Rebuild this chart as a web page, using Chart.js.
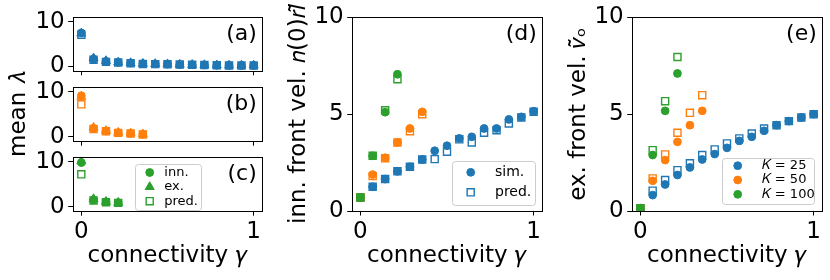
<!DOCTYPE html>
<html>
<head>
<meta charset="utf-8">
<script src="https://cdn.jsdelivr.net/npm/chart.js@4.4.0/dist/chart.umd.min.js"></script>
<style>
  body { margin: 0; background: #fff; }
  #wrap { position: relative; width: 830px; height: 280px; }
  #wrap canvas { position: absolute; left: 0; top: 0; }
</style>
</head>
<body>
<div id="wrap">
  <canvas id="pa" width="830" height="280"></canvas>
  <canvas id="pb" width="830" height="280"></canvas>
  <canvas id="pc" width="830" height="280"></canvas>
  <canvas id="pd" width="830" height="280"></canvas>
  <canvas id="pe" width="830" height="280"></canvas>
</div>
<script>
// connectivity values (x)
const gamma = [0, 0.071, 0.143, 0.214, 0.286, 0.357, 0.429, 0.5, 0.571, 0.643, 0.714, 0.786, 0.857, 0.929, 1];

// mean lambda, K = 25 (a)
const lamInn25  = [7.5, 1.6, 1.1, 0.9, 0.75, 0.6, 0.55, 0.5, 0.4, 0.35, 0.3, 0.25, 0.22, 0.2, 0.2];
const lamEx25   = [7.4, 1.8, 1.2, 0.9, 0.75, 0.6, 0.55, 0.5, 0.4, 0.35, 0.3, 0.25, 0.22, 0.2, 0.2];
const lamPred25 = [7.1, 1.5, 1.0, 0.85, 0.7, 0.55, 0.5, 0.45, 0.4, 0.35, 0.3, 0.25, 0.2, 0.2, 0.2];
const lamErr25  = [0.3, 1.0, 0.7, 0.4, 0.3, 0.2, 0.2, 0.2, 0.1, 0.1, 0.1, 0.1, 0.1, 0.1, 0.1];
// mean lambda, K = 50 (b)
const lamInn50  = [9.1, 1.85, 1.25, 0.9, 0.75, 0.55];
const lamEx50   = [8.9, 2.0, 1.3, 0.9, 0.75, 0.55];
const lamPred50 = [7.2, 1.7, 1.2, 0.85, 0.7, 0.5];
const lamErr50  = [0.3, 1.0, 0.6, 0.4, 0.3, 0.2];
// mean lambda, K = 100 (c)
const lamInn100  = [9.8, 1.5, 1.1, 0.9];
const lamEx100   = [10.1, 1.7, 1.1, 0.9];
const lamPred100 = [7.2, 1.4, 1.0, 0.85];
const lamErr100  = [0.3, 0.9, 0.5, 0.4];

// inner front velocity (d)
const innSim25  = [0.7, 1.25, 1.65, 2.05, 2.28, 2.66, 3.11, 3.37, 3.75, 3.83, 4.26, 4.26, 4.73, 4.86, 5.15];
const innPred25 = [0.7, 1.25, 1.65, 2.05, 2.28, 2.66, 2.68, 3.06, 3.7, 3.54, 4.04, 4.17, 4.52, 4.83, 5.12];
const innSim50  = [0.7, 1.88, 2.75, 3.54, 4.26, 5.12];
const innPred50 = [0.7, 1.8, 2.72, 3.54, 4.12, 5.0];
const innSim100  = [0.7, 2.85, 5.1, 7.06];
const innPred100 = [0.7, 2.85, 5.2, 6.8];

// outer front velocity (e)
const exSim25  = [0.14, 0.82, 1.37, 1.86, 2.25, 2.66, 2.94, 3.26, 3.62, 3.83, 4.14, 4.43, 4.64, 4.83, 5.0];
const exPred25 = [0.14, 1.05, 1.6, 2.11, 2.46, 2.89, 3.18, 3.49, 3.75, 4.0, 4.26, 4.43, 4.64, 4.83, 5.0];
const exSim50  = [0.14, 1.56, 2.63, 3.57, 4.43, 5.17];
const exPred50 = [0.14, 1.68, 2.92, 4.04, 5.07, 5.98];
const exSim100  = [0.14, 2.89, 5.17, 7.1];
const exPred100 = [0.14, 3.14, 5.67, 7.95];

const xTicks = [0, 1];
const yTicks = [0, 5, 10];
const legendLam = ['inn.', 'ex.', 'pred.'];
const legendInn = ['sim.', 'pred.'];
const legendK = ['𝐾 = 25', '𝐾 = 50', '𝐾 = 100'];

const blue = '#1f77b4', orange = '#ff7f0e', green = '#2ca02c';
const FONT = 'DejaVu Sans';
Chart.defaults.font.family = FONT;
Chart.defaults.color = '#000';

function pts(vals) {
  return vals.map((v, i) => ({ x: gamma[i], y: v }));
}

function serie(label, vals, color, style, filled, order, errs) {
  let r = 3.9;
  if (style === 'rect') r = 5.0;
  if (style === 'triangle') r = 5.2;
  return {
    label: label,
    data: pts(vals),
    pointStyle: style,
    pointRadius: r,
    borderWidth: filled ? 1 : 1.4,
    backgroundColor: filled ? color : 'rgba(0,0,0,0)',
    borderColor: color,
    showLine: false,
    order: order,
    errors: errs
  };
}

// cadre + etiquette du panneau
const frame = {
  id: 'frame',
  afterDraw(chart, args, opts) {
    const a = chart.chartArea, c = chart.ctx;
    const l = Math.round(a.left) + 0.5, t = Math.round(a.top) + 0.5;
    const r = Math.round(a.right) + 0.5, b = Math.round(a.bottom) + 0.5;
    c.save();
    c.strokeStyle = '#000';
    c.lineWidth = 1;
    c.strokeRect(l, t, r - l, b - t);
    if (opts.tag) {
      c.font = '22px "' + FONT + '"';
      c.textAlign = 'right';
      c.textBaseline = 'middle';
      c.fillStyle = '#000';
      c.fillText(opts.tag, a.right - 5.5, a.top + 17);
    }
    c.restore();
  }
};

// barres d'erreur verticales
const errbars = {
  id: 'errbars',
  beforeDatasetsDraw(chart) {
    const c = chart.ctx, ys = chart.scales.y;
    chart.data.datasets.forEach((ds, i) => {
      if (!ds.errors) return;
      const meta = chart.getDatasetMeta(i);
      c.save();
      c.strokeStyle = ds.borderColor;
      c.lineWidth = 1.5;
      meta.data.forEach((pt, j) => {
        const v = ds.data[j].y, e = ds.errors[j];
        c.beginPath();
        c.moveTo(pt.x, ys.getPixelForValue(v - e));
        c.lineTo(pt.x, ys.getPixelForValue(v + e));
        c.stroke();
      });
      c.restore();
    });
  }
};

// légende encadrée dans la zone du graphe
const boxLegend = {
  id: 'boxLegend',
  afterDraw(chart, args, o) {
    if (!o.items) return;
    const a = chart.chartArea, c = chart.ctx;
    const x0 = a.right - o.right - o.w, y0 = a.bottom - o.bottom - o.h;
    c.save();
    c.fillStyle = 'rgba(255,255,255,0.8)';
    c.strokeStyle = '#cccccc';
    c.lineWidth = 1;
    c.beginPath();
    c.roundRect(Math.round(x0) + 0.5, Math.round(y0) + 0.5, Math.round(o.w), Math.round(o.h), 3);
    c.fill();
    c.stroke();
    c.font = o.size + 'px "' + FONT + '"';
    c.textBaseline = 'middle';
    c.textAlign = 'left';
    o.items.forEach((it, k) => {
      const y = y0 + o.rows[k];
      c.fillStyle = it.filled ? it.color : 'rgba(0,0,0,0)';
      c.strokeStyle = it.color;
      c.lineWidth = it.filled ? 1 : 1.4;
      let r = 3.9;
      if (it.style === 'rect') r = 5.0;
      if (it.style === 'triangle') r = 5.2;
      Chart.helpers.drawPoint(c, { pointStyle: it.style, radius: r, borderWidth: c.lineWidth }, x0 + o.mx, y);
      c.fillStyle = '#000';
      c.fillText(it.label, x0 + o.tx, y);
    });
    c.restore();
  }
};

function makeScales(o) {
  const tickFont = { size: 23, family: FONT };
  return {
    x: {
      type: 'linear', min: -0.05, max: 1.05,
      afterBuildTicks: s => { s.ticks = xTicks.map(v => ({ value: v })); },
      afterFit: s => { s.height = o.xh; },
      grid: { drawOnChartArea: false, tickLength: 4.5, color: '#000', tickWidth: 1 },
      border: { display: false },
      ticks: { display: o.xlab, font: tickFont, color: '#000', padding: 3, maxRotation: 0 },
      title: { display: !!o.xtitle, text: o.xtitle, font: tickFont, color: '#000', padding: { top: 0, bottom: 10.5 } }
    },
    y: {
      type: 'linear', min: o.ymin, max: o.ymax,
      afterBuildTicks: s => { s.ticks = yTicks.map(v => ({ value: v })); },
      afterFit: s => { s.width = o.yw; },
      grid: { drawOnChartArea: false, tickLength: 4.5, color: '#000', tickWidth: 1 },
      border: { display: false },
      ticks: { font: tickFont, color: '#000', padding: 3.5 },
      title: { display: !!o.ytitle, text: o.ytitle, font: tickFont, color: '#000', padding: { top: 5.3, bottom: 0 } }
    }
  };
}

function makeChart(id, datasets, o) {
  return new Chart(document.getElementById(id), {
    type: 'scatter',
    data: { datasets: datasets },
    options: {
      responsive: false,
      animation: false,
      events: [],
      layout: { padding: o.pad },
      scales: makeScales(o),
      plugins: {
        legend: { display: false },
        tooltip: { enabled: false },
        frame: { tag: o.tag },
        boxLegend: o.legend || {}
      }
    },
    plugins: [frame, errbars, boxLegend]
  });
}

const xTitle = 'connectivity 𝛾';

makeChart('pa', [
  serie('inn.', lamInn25, blue, 'circle', true, 3, lamErr25),
  serie('ex.', lamEx25, blue, 'triangle', true, 2),
  serie('pred.', lamPred25, blue, 'rect', false, 1)
], { pad: { left: 0, top: 16.8, right: 567.7, bottom: 0 }, yw: 72.7, xh: 209.2, xlab: false, ymin: -1, ymax: 11, tag: '(a)' });

makeChart('pb', [
  serie('inn.', lamInn50, orange, 'circle', true, 3, lamErr50),
  serie('ex.', lamEx50, orange, 'triangle', true, 2),
  serie('pred.', lamPred50, orange, 'rect', false, 1)
], { pad: { left: 0, top: 87.2, right: 567.7, bottom: 0 }, yw: 72.7, xh: 138.8, xlab: false, ymin: -1, ymax: 11, tag: '(b)', ytitle: 'mean 𝜆' });

makeChart('pc', [
  serie('inn.', lamInn100, green, 'circle', true, 3, lamErr100),
  serie('ex.', lamEx100, green, 'triangle', true, 2),
  serie('pred.', lamPred100, green, 'rect', false, 1)
], { pad: { left: 0, top: 157.2, right: 567.7, bottom: 0 }, yw: 72.7, xh: 68.8, xlab: true, xtitle: xTitle, ymin: -1, ymax: 11, tag: '(c)',
     legend: { right: 61.6, bottom: 1, w: 65.7, h: 46, mx: 14.7, tx: 29.3, rows: [8.3, 22.7, 37], size: 13,
       items: [
         { label: legendLam[0], style: 'circle', color: green, filled: true },
         { label: legendLam[1], style: 'triangle', color: green, filled: true },
         { label: legendLam[2], style: 'rect', color: green, filled: false }
       ] } });

makeChart('pd', [
  serie('sim. K=25', innSim25, blue, 'circle', true, 6),
  serie('pred. K=25', innPred25, blue, 'rect', false, 5),
  serie('sim. K=50', innSim50, orange, 'circle', true, 4),
  serie('pred. K=50', innPred50, orange, 'rect', false, 3),
  serie('sim. K=100', innSim100, green, 'circle', true, 2),
  serie('pred. K=100', innPred100, green, 'rect', false, 1)
], { pad: { left: 280, top: 17, right: 287.7, bottom: 0 }, yw: 71.7, xh: 69, xlab: true, xtitle: xTitle, ymin: 0, ymax: 10, tag: '(d)',
     ytitle: 'inn. front vel. 𝑛(0)𝑟𝑙̃',
     legend: { right: 7.3, bottom: 6.7, w: 83.3, h: 43.6, mx: 19, tx: 43.3, rows: [11.6, 31.6], size: 14,
       items: [
         { label: legendInn[0], style: 'circle', color: blue, filled: true },
         { label: legendInn[1], style: 'rect', color: blue, filled: false }
       ] } });

makeChart('pe', [
  serie('sim. K=25', exSim25, blue, 'circle', true, 6),
  serie('pred. K=25', exPred25, blue, 'rect', false, 5),
  serie('sim. K=50', exSim50, orange, 'circle', true, 4),
  serie('pred. K=50', exPred50, orange, 'rect', false, 3),
  serie('sim. K=100', exSim100, green, 'circle', true, 2),
  serie('pred. K=100', exPred100, green, 'rect', false, 1)
], { pad: { left: 560, top: 17, right: 7.7, bottom: 0 }, yw: 71.7, xh: 69, xlab: true, xtitle: xTitle, ymin: 0, ymax: 10, tag: '(e)',
     ytitle: 'ex. front vel. 𝑣̃ₒ',
     legend: { right: 9, bottom: 6.7, w: 91.6, h: 46.3, mx: 16, tx: 40, rows: [7.7, 22, 36.3], size: 13,
       items: [
         { label: legendK[0], style: 'circle', color: blue, filled: true },
         { label: legendK[1], style: 'circle', color: orange, filled: true },
         { label: legendK[2], style: 'circle', color: green, filled: true }
       ] } });
</script>
</body>
</html>
